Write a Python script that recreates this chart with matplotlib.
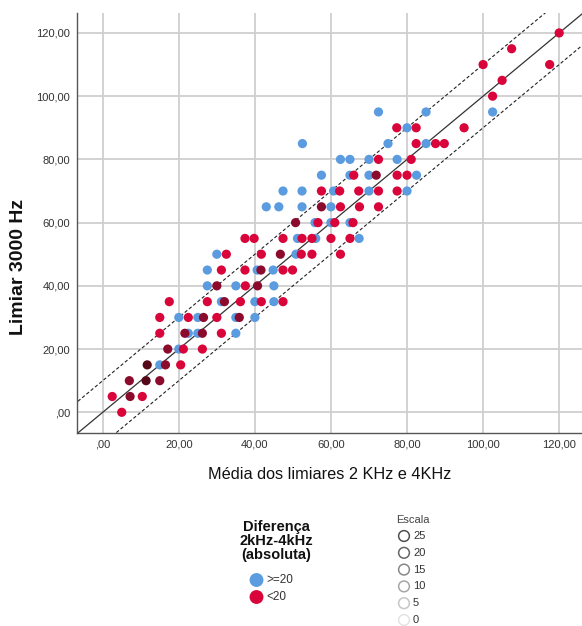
import numpy as np
import matplotlib
matplotlib.use('Agg')
import matplotlib.pyplot as plt

plt.rcParams['font.family'] = ['Liberation Sans', 'DejaVu Sans']

# Diferença 2kHz-4kHz >= 20 (azul)
blue_x = [15, 20, 22.5, 25, 35, 20, 25, 35, 40, 31.2, 40, 45, 27.5, 35, 45,
          27.5, 40.6, 44.8, 30, 50.8, 51.2, 56, 67.4, 55.8, 60, 65,
          43, 46.3, 52.4, 60, 47.4, 52.4, 60.7, 70, 80, 57.5, 65, 70, 82.5,
          62.5, 65, 70, 77.4, 52.5, 75, 85, 80, 72.5, 85, 102.5]
blue_y = [15, 20, 25, 25, 25, 30, 30, 30, 30, 35, 35, 35, 40, 40, 40,
          45, 45, 45, 50, 50, 55, 55, 55, 60, 60, 60,
          65, 65, 65, 65, 70, 70, 70, 70, 70, 75, 75, 75, 75,
          80, 80, 80, 80, 85, 85, 85, 90, 95, 95, 95]

# Diferença < 20 (vermelho); n = número de casos sobrepostos
red_x = [5, 2.5, 7.2, 10.4, 7, 11.4, 15, 11.7, 16.5, 20.5, 17.1, 21.2, 26.2,
         15, 21.6, 26.2, 31.2, 15, 22.5, 26.5, 30, 35.9,
         17.5, 27.5, 32, 36.2, 41.7, 47.4, 30, 37.5, 40.7,
         31.2, 37.4, 41.6, 47.4, 49.9, 32.5, 41.7, 46.7, 52.2, 55, 62.5,
         37.4, 39.8, 47.4, 52.4, 55, 60, 65, 50.7, 56.6, 61, 65.8,
         57.5, 62.5, 67.5, 72.5, 57.5, 62.3, 67.3, 72.5, 77.4,
         66, 71.9, 77.4, 80, 72.5, 81.1, 82.4, 87.5, 89.8, 77.3, 82.4, 95,
         102.5, 105, 100, 117.5, 107.5, 120]
red_y = [0, 5, 5, 5, 10, 10, 10, 15, 15, 15, 20, 20, 20,
         25, 25, 25, 25, 30, 30, 30, 30, 30,
         35, 35, 35, 35, 35, 35, 40, 40, 40,
         45, 45, 45, 45, 45, 50, 50, 50, 50, 50, 50,
         55, 55, 55, 55, 55, 55, 55, 60, 60, 60, 60,
         65, 65, 65, 65, 70, 70, 70, 70, 70,
         75, 75, 75, 75, 80, 80, 85, 85, 85, 90, 90, 90,
         100, 105, 110, 110, 115, 120]
red_n = [1, 1, 2, 1, 2, 3, 2, 3, 2, 1, 2, 1, 1,
         1, 2, 2, 1, 1, 1, 2, 1, 2,
         1, 1, 2, 1, 1, 1, 2, 1, 2,
         1, 1, 2, 1, 1, 1, 1, 2, 1, 1, 1,
         1, 1, 1, 1, 1, 1, 1, 2, 1, 1, 1,
         2, 1, 1, 1, 1, 1, 1, 1, 1,
         1, 2, 1, 1, 1, 1, 1, 1, 1, 1, 1, 1,
         1, 1, 1, 1, 1, 1]

ticks = [0, 20, 40, 60, 80, 100, 120]
tick_labels = [',00', '20,00', '40,00', '60,00', '80,00', '100,00', '120,00']
ref_offsets = [-10, 0, 10]

escala_vals = [25, 20, 15, 10, 5, 0]
escala_cols = ['#505050', '#666666', '#888888', '#a6a6a6', '#c6c6c6', '#e4e4e4']

blue = '#5b9be0'
red_cols = {1: '#d8043a', 2: '#8c0a2c', 3: '#560818'}

fig = plt.figure(figsize=(5.82, 6.26), dpi=100)
ax = fig.add_axes([0.1323, 0.3083, 0.8677, 0.6714])
ax.set_xlim(-6.76, 126.0)
ax.set_ylim(-6.55, 126.4)

ax.set_xticks(ticks)
ax.set_xticklabels(tick_labels)
ax.set_yticks(ticks)
ax.set_yticklabels(tick_labels)
ax.tick_params(length=0, labelsize=8, labelcolor='#333333', pad=5)
ax.grid(True, color='#cfcfcf', lw=1.3)
ax.set_axisbelow(True)
for s in ['top', 'right']:
    ax.spines[s].set_visible(False)
for s in ['left', 'bottom']:
    ax.spines[s].set_color('#555555')
    ax.spines[s].set_linewidth(1.0)

# reference lines y = x and y = x +/- 10
xx = np.array([-20, 140])
for off in ref_offsets:
    if off == 0:
        ax.plot(xx, xx + off, color='#333333', lw=0.9, zorder=2)
    else:
        ax.plot(xx, xx + off, color='#222222', lw=0.8, ls=(0, (3, 2)), zorder=2)

ax.scatter(blue_x, blue_y, s=44, color=blue, edgecolors='none', zorder=3)
ax.scatter(red_x, red_y, s=44, color=[red_cols[n] for n in red_n],
           edgecolors='none', zorder=4)

ax.set_xlabel('Média dos limiares 2 KHz e 4KHz', fontsize=11.7, color='#111111', labelpad=12)

# legends / titles (pixel coords overlay)
lax = fig.add_axes([0, 0, 1, 1])
lax.set_xlim(0, 582)
lax.set_ylim(626, 0)
lax.axis('off')

lax.text(19, 267, 'Limiar 3000 Hz', rotation=90, ha='center', va='center',
         fontsize=14, fontweight='bold', color='#111111')

lax.text(276, 541, 'Diferença\n2kHz-4kHz\n(absoluta)', ha='center', va='center',
         fontsize=10.5, fontweight='bold', color='#111111', linespacing=1.0)
lax.scatter([256.5], [580], s=100, color=blue, edgecolors='none')
lax.scatter([256.5], [597], s=100, color=red_cols[1], edgecolors='none')
lax.text(266, 580, '>=20', ha='left', va='center', fontsize=8.5, color='#333333')
lax.text(266, 597, '<20', ha='left', va='center', fontsize=8.5, color='#333333')

lax.text(413, 520, 'Escala', ha='center', va='center', fontsize=8, color='#444444')
for i, (v, c) in enumerate(zip(escala_vals, escala_cols)):
    yy = 536 + i * 16.8
    lax.scatter([404], [yy], s=60, facecolors='none', edgecolors=c, linewidths=1.1)
    lax.text(413, yy, str(v), ha='left', va='center', fontsize=8, color='#333333')

fig.savefig('out.png', dpi=100)
